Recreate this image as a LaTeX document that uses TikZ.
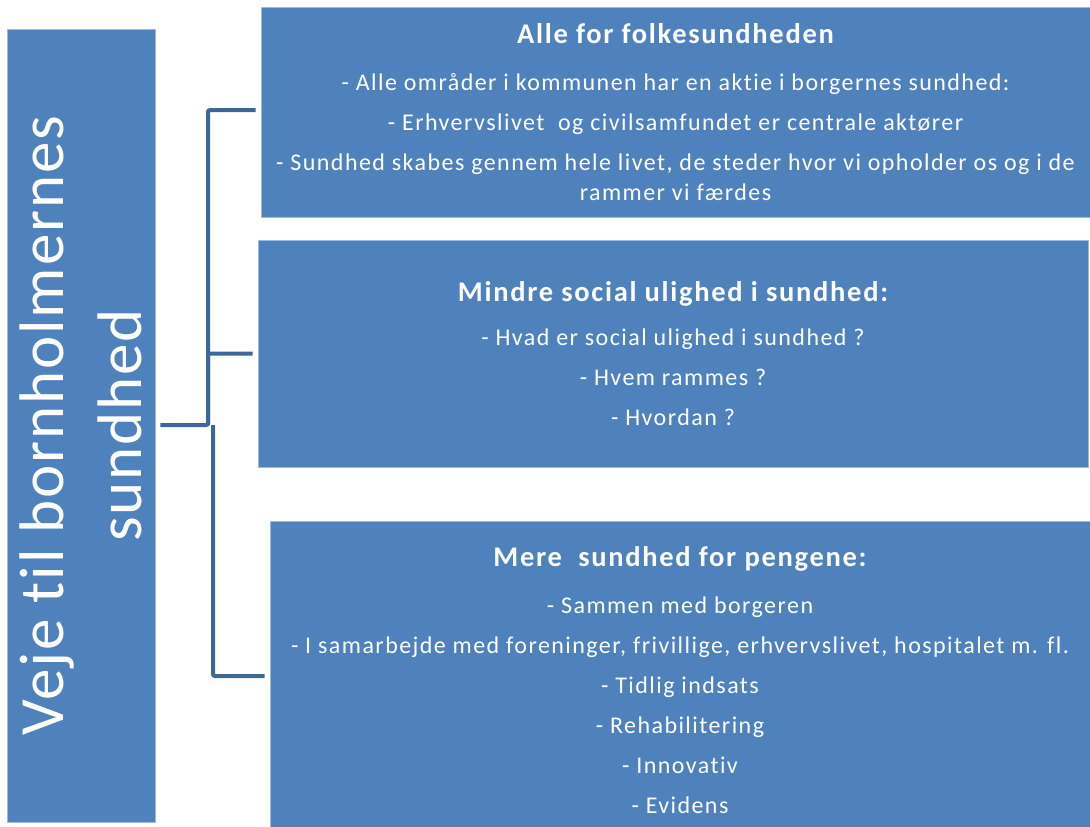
\documentclass[tikz,border=0pt]{standalone}
\usepackage{fontspec}
\setmainfont{Carlito}[Ligatures=NoCommon,LetterSpace=6]
\newfontfamily\sidefont{Carlito}[Ligatures=NoCommon,LetterSpace=3]
\usetikzlibrary{positioning}
\definecolor{boxblue}{HTML}{4F81BD}
\definecolor{linkblue}{HTML}{3E6696}
\newcommand\headfont{\bfseries\fontsize{28.5}{40}\selectfont}

\begin{document}
\begin{tikzpicture}[x=1pt,y=-1pt,
        box/.style={fill=boxblue,draw=boxblue!55,line width=.8pt,inner sep=0pt,
            text=white,align=center,font=\fontsize{24}{40}\selectfont},
        link/.style={draw=linkblue,line width=4pt,rounded corners=2pt}]
        \useasboundingbox (0,0) rectangle (1090,827);
        % left title bar
        \node[box,minimum width=148pt,minimum height=793pt] (side) at (81,425.5) {};
        \node[text=white,rotate=90,align=center,font=\sidefont\fontsize{63}{78}\selectfont] (sidetext) at (side) {Veje til bornholmernes\\sundhed};
        % three boxes
        \node[box,minimum width=829pt,minimum height=210pt] (folk) at (675.5,112) {%
            {\headfont Alle for folkesundheden}\\[7pt]
            - Alle områder i kommunen har en aktie i borgernes sundhed:\\
            - Erhvervslivet\ \ og civilsamfundet er centrale aktører\\
            - Sundhed skabes gennem hele livet, de steder hvor vi opholder os og i de\\[-10pt]
            rammer vi færdes};
        \node[box,minimum width=830pt,minimum height=227pt] (ulig) at (673,353.5) {%
            {\headfont Mindre social ulighed i sundhed:}\\[4pt]
            - Hvad er social ulighed i sundhed ?\\
            - Hvem rammes ?\\
            - Hvordan ?};
        \node[box,minimum width=820pt,minimum height=318pt] (penge) at (680,680) {%
            {\headfont Mere\ \ sundhed for pengene:}\\[7pt]
            - Sammen med borgeren\\
            - I samarbejde med foreninger, frivillige, erhvervslivet,\ hospitalet m. fl.\\
            - Tidlig indsats\\
            - Rehabilitering\\
            - Innovativ\\
            - Evidens};
        % bracket
        \coordinate (hub) at (208,425);
        \path[link] ([xshift=5pt]side.east |- hub) -- (hub) |- ([xshift=-5pt]folk.west |- 0,110);
        \path[link] (hub) |- ([xshift=-5pt]ulig.west);
        \path[link] ([xshift=5pt]hub) |- ([xshift=-5pt]penge.west |- 0,676);
        \end{tikzpicture}
\end{document}
